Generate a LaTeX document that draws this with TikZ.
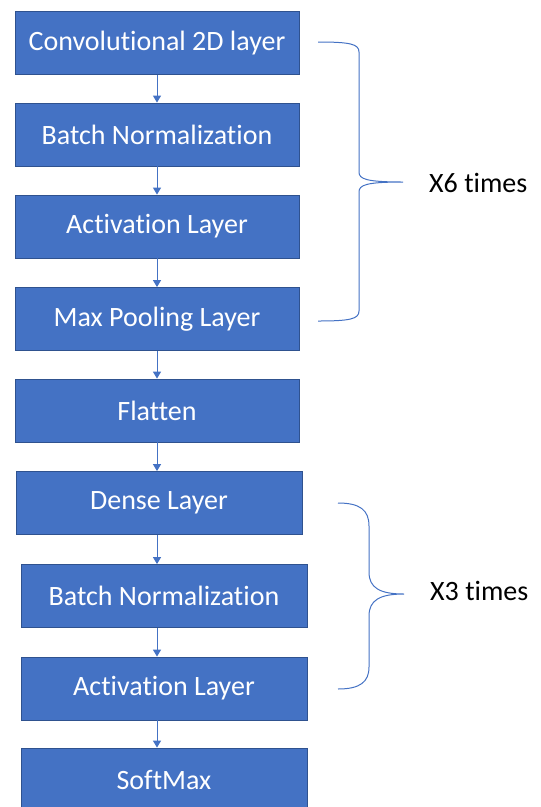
\documentclass[tikz,border=0pt]{standalone}
\usepackage{fontspec}
\setmainfont[Ligatures={NoCommon}]{Carlito}
\usetikzlibrary{arrows.meta}
\definecolor{boxfill}{HTML}{4472C4}
\definecolor{boxline}{HTML}{2F528F}
\definecolor{linkc}{HTML}{4472C4}
\begin{document}
\begin{tikzpicture}[x=1pt,y=-1pt,
  layer/.style={draw=boxline,line width=0.8pt,fill=boxfill,text=white,
    minimum height=63pt,inner sep=0pt,font=\fontsize{28}{32}\selectfont},
  link/.style={draw=linkc,line width=1pt,-{Triangle[width=8pt,length=7pt]}},
  bracec/.style={draw=linkc,line width=1pt},
  rep/.style={font=\fontsize{28}{32}\selectfont,anchor=west,inner sep=0pt}]
\useasboundingbox (0,0) rectangle (541,807);
\node[layer,minimum width=284pt] (c1) at (157,43) {Convolutional 2D layer};
\node[layer,minimum width=284pt] (b1) at (157,134.5) {Batch Normalization};
\node[layer,minimum width=284pt] (a1) at (157,226.5) {Activation Layer};
\node[layer,minimum width=284pt] (m1) at (157,319) {Max Pooling Layer};
\node[layer,minimum width=284pt] (fl) at (157,410.5) {Flatten};
\node[layer,minimum width=286pt] (d1) at (159,503) {Dense Layer};
\node[layer,minimum width=286pt] (b2) at (164,596) {Batch Normalization};
\node[layer,minimum width=286pt] (a2) at (164,688.5) {Activation Layer};
\node[layer,minimum width=286pt] (sm) at (164,779.5) {SoftMax};
\path[link] (c1.south) -- (c1.south |- b1.north);
\path[link] (b1.south) -- (b1.south |- a1.north);
\path[link] (a1.south) -- (a1.south |- m1.north);
\path[link] (m1.south) -- (m1.south |- fl.north);
\path[link] (fl.south) -- (fl.south |- d1.north);
\path[link] (fl.south |- d1.south) -- (fl.south |- b2.north);
\path[link] (fl.south |- b2.south) -- (fl.south |- a2.north);
\path[link] (fl.south |- a2.south) -- (fl.south |- sm.north);
% brace 1
\coordinate (t1) at (318,42);
\coordinate (p1) at (403,182);
\coordinate (e1) at (318,321);
\path[bracec] (t1) .. controls (350,42) and (359,44) .. (359,52) -- (359,172)
  .. controls (359,179) and (366,182) .. (p1)
  .. controls (366,182) and (359,185) .. (359,192) -- (359,311)
  .. controls (359,319) and (350,321) .. (e1);
\node[rep] (x6) at (429,183) {X6 times};
% brace 2
\coordinate (t2) at (338,503);
\coordinate (p2) at (404,594);
\coordinate (e2) at (338,689);
\path[bracec] (t2) .. controls (360,503) and (369,510) .. (369,526) -- (369,572)
  .. controls (369,588) and (380,594) .. (p2)
  .. controls (380,594) and (369,600) .. (369,616) -- (369,667)
  .. controls (369,682) and (360,689) .. (e2);
\node[rep] (x3) at (430,591) {X3 times};
\end{tikzpicture}
\end{document}
